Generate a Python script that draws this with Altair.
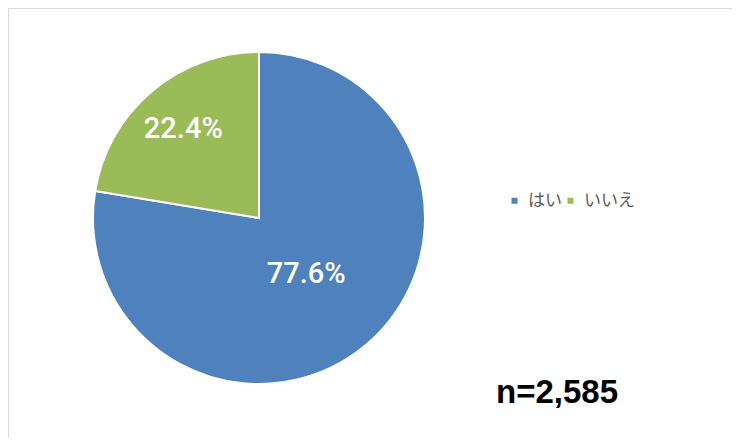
import altair as alt
import pandas as pd

categories = ["はい", "いいえ"]
values = [77.6, 22.4]
labels = ["77.6%", "22.4%"]
label_radius = [73, 117]
colors = ["#4F81BD", "#9BBB59"]
note = "n=2,585"

df = pd.DataFrame({
    "cat": categories,
    "val": values,
    "label": labels,
    "r": label_radius,
    "ord": list(range(len(categories))),
})

cx, cy, R = 251, 210, 166
theta_scale = alt.Scale(domain=[0, 100])

pie = alt.Chart(df).mark_arc(outerRadius=R, stroke="white", strokeWidth=2).encode(
    theta=alt.Theta("val:Q", stack=True, scale=theta_scale),
    order=alt.Order("ord:Q"),
    x=alt.value(cx),
    y=alt.value(cy),
    color=alt.Color(
        "cat:N",
        scale=alt.Scale(domain=categories, range=colors),
        sort=categories,
        legend=alt.Legend(
            title=None,
            orient="none",
            direction="horizontal",
            legendX=498,
            legendY=184,
            symbolType="square",
            symbolSize=36,
            labelFontSize=17,
            labelColor="#595959",
            labelFont="Noto Sans CJK JP",
            labelOffset=5,
            columnPadding=-4,
            symbolStrokeWidth=0,
        ),
    ),
)

text = (
    alt.Chart(df)
    .transform_window(cum="sum(val)", sort=[alt.SortField("ord")], frame=[None, 0])
    .transform_calculate(mid="datum.cum - datum.val / 2")
    .mark_text(
        font="Roboto",
        fontWeight=500,
        fontSize=29,
        color="white",
        baseline="middle",
        align="center",
    )
    .encode(
        theta=alt.Theta("mid:Q", scale=theta_scale),
        x=alt.value(cx),
        y=alt.value(cy),
        radius=alt.Radius("r:Q", scale=None),
        text="label:N",
    )
)

ndf = pd.DataFrame({"t": [note]})
ntext = alt.Chart(ndf).mark_text(
    font="Liberation Sans",
    fontWeight="bold",
    fontSize=33,
    color="black",
    align="center",
    baseline="middle",
).encode(x=alt.value(549), y=alt.value(385), text="t:N")

chart = (
    alt.layer(pie, text, ntext)
    .properties(width=724, height=429, autosize=alt.AutoSizeParams(type="none"), padding=0)
    .configure_view(stroke="#d9d9d9", strokeWidth=1)
)

chart.save("out.html", embed_options={"renderer": "svg", "actions": False})
